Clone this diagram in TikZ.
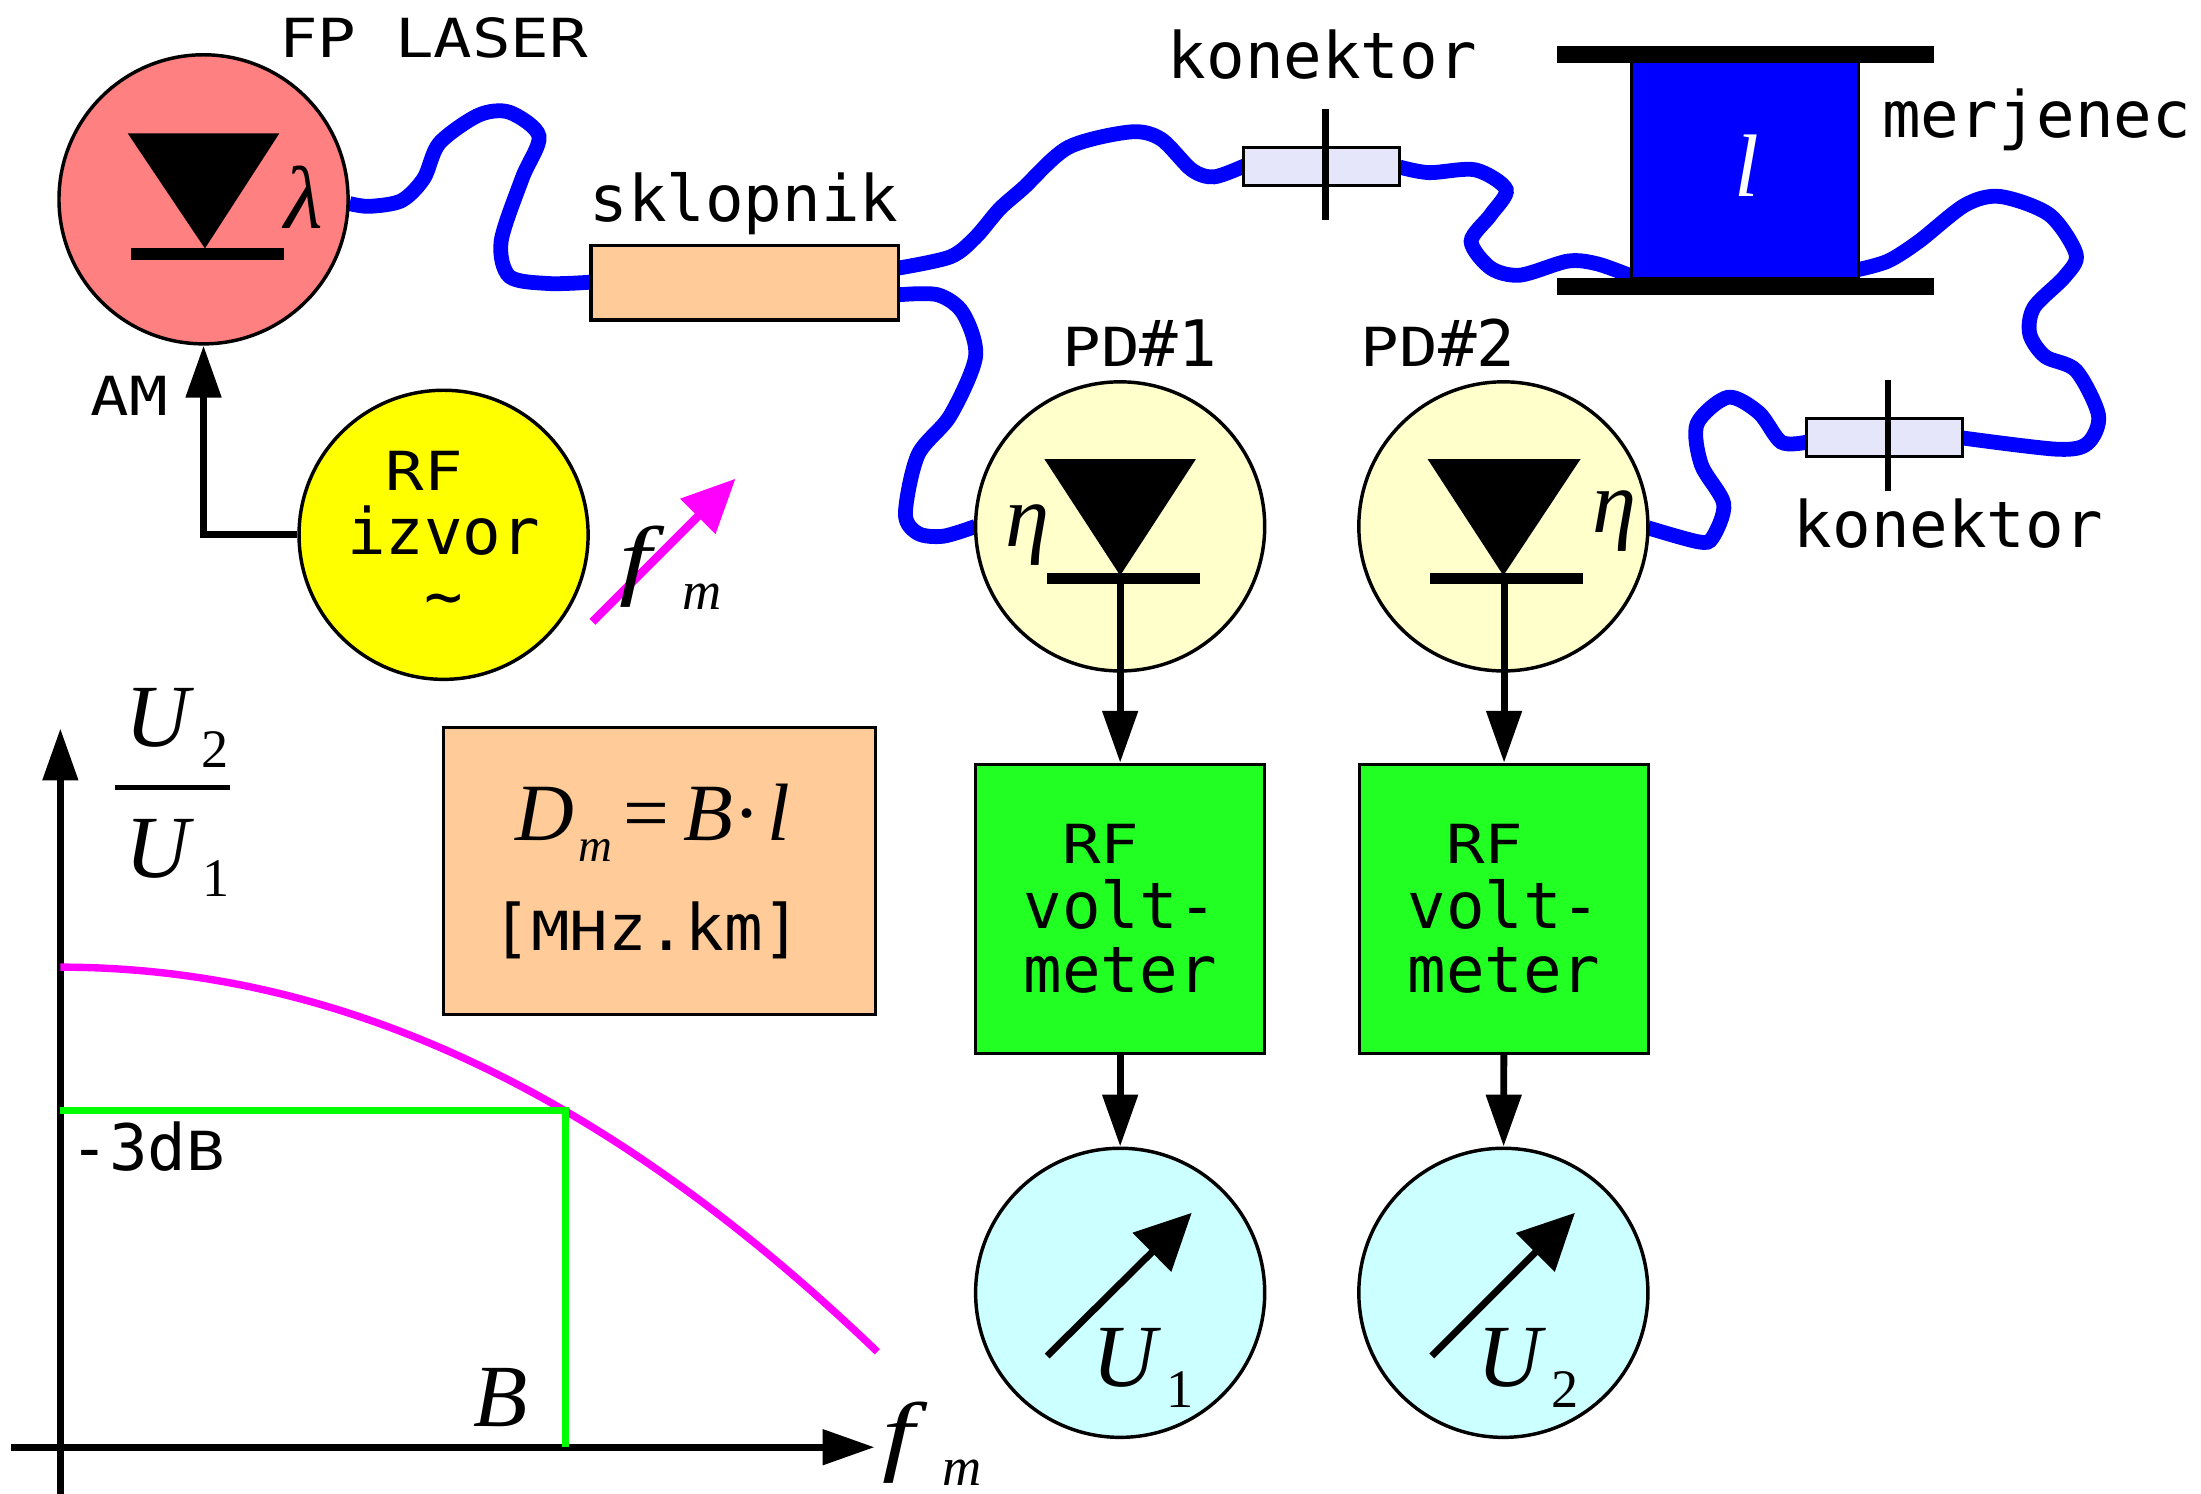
\documentclass[tikz,border=0pt]{standalone}
\usepackage{fontspec}
\usepackage{graphicx}
\setmonofont{DejaVu Sans Mono}
\newfontfamily\symfont{Liberation Serif}
\usetikzlibrary{arrows.meta}
\newcommand{\lowcap}[1]{\scalebox{1}[.84]{#1}}
\newcommand{\wideital}[1]{\scalebox{1.3}[1]{#1}}
\definecolor{laserred}{RGB}{255,128,128}
\definecolor{peach}{RGB}{255,204,153}
\definecolor{paleblue}{RGB}{230,230,250}
\definecolor{palecream}{RGB}{255,255,204}
\definecolor{rfyellow}{RGB}{255,255,0}
\definecolor{voltgreen}{RGB}{34,255,34}
\definecolor{metercyan}{RGB}{204,255,255}
\definecolor{puremagenta}{RGB}{255,0,255}
\definecolor{puregreen}{RGB}{0,255,0}
\definecolor{pureblue}{RGB}{0,0,255}
\tikzset{
  >={Triangle[length=0.74cm,width=0.49cm]},
  txt/.style={font=\ttfamily\fontsize{26}{26}\selectfont,inner sep=0pt,anchor=base},
  symbig/.style={font=\symfont\itshape\fontsize{36}{36}\selectfont,inner sep=0pt,anchor=base west},
  symsub/.style={font=\symfont\itshape\fontsize{22}{22}\selectfont,inner sep=0pt,anchor=base west},
  numsub/.style={font=\symfont\fontsize{22}{22}\selectfont,inner sep=0pt,anchor=base west},
  disc/.style={circle,draw,line width=1.4pt,minimum size=4.12cm,inner sep=0pt},
  block/.style={rectangle,draw,line width=1.3pt,inner sep=0pt},
  voltblock/.style={block,fill=voltgreen,minimum size=4.12cm,align=left,
    font=\ttfamily\fontsize{26}{26}\selectfont},
  conn/.style={block,fill=paleblue,minimum width=2.22cm,minimum height=0.54cm},
  bar/.style={rectangle,fill=black,inner sep=0pt},
  wire/.style={line width=2.8pt},
  fibre/.style={pureblue,line width=6pt},
  curve/.style={line width=3pt}
}

\begin{document}
\begin{tikzpicture}[x=0.02cm,y=-0.02cm]
  \useasboundingbox (0,0) rectangle (1568,1064);

  % Fibres
  \coordinate (laserout) at (249,145);
  \coordinate (splitin) at (421,201);
  \coordinate (splitup) at (640,191);
  \coordinate (splitdown) at (640,210);
  \coordinate (pdonein) at (695,375);
  \coordinate (pdtwoin) at (1174,376);
  \coordinate (connoneleft) at (887,118);
  \coordinate (connoneright) at (997,119);
  \coordinate (conntwoleft) at (1287,315);
  \coordinate (conntworight) at (1398,312);
  \coordinate (spoolin) at (1163,197);
  \coordinate (spoolout) at (1324,192);
  \draw [fibre] plot [smooth,tension=0.5] coordinates {(laserout) (263,147) (286,143) (302,127) (313,102) (341,82) (363,80) (384,97) (372,127) (357,172) (363,197) (391,202) (splitin)};
  \draw [fibre] plot [smooth,tension=0.5] coordinates {(splitup) (677,183) (695,169) (712,149) (729,134) (761,105) (805,94) (827,99) (849,121) (865,126) (connoneleft)};
  \draw [fibre] plot [smooth,tension=0.5] coordinates {(connoneright) (1018,123) (1051,121) (1073,135) (1062,153) (1048,172) (1062,191) (1083,196) (1117,186) (1138,188) (spoolin)};
  \draw [fibre] plot [smooth,tension=0.5] coordinates {(spoolout) (1345,186) (1367,172) (1400,146) (1425,140) (1460,153) (1479,181) (1471,197) (1449,219) (1446,238) (1457,254) (1479,264) (1495,296) (1487,316) (1465,320) (conntworight)};
  \draw [fibre] plot [smooth,tension=0.5] coordinates {(conntwoleft) (1269,315) (1253,294) (1231,283) (1209,302) (1212,331) (1228,359) (1220,383) (1210,386) (pdtwoin)};
  \draw [fibre] plot [smooth,tension=0.5] coordinates {(splitdown) (668,210) (686,223) (695,254) (677,296) (654,324) (645,366) (654,380) (672,382) (pdonein)};

  % Laser and source
  \node [disc,fill=laserred] (laser) at (145,142) {};
  \fill (91,95) -- (199,95) -- (146,177) -- cycle;
  \node [bar,minimum width=2.18cm,minimum height=0.16cm] (laserbar) at (147.5,181) {};
  \node [symbig] (lambda) at (202,163) {λ};
  \node [txt] (laserlabel) at (309,41) {\lowcap{FP LASER}};
  \node [disc,fill=rfyellow,align=left,font=\ttfamily\fontsize{26}{26}\selectfont] (rf) at (316,381) {\ \lowcap{RF}\\izvor\\\ \ \textasciitilde};
  \draw [->,wire] (rf) -| (laser);
  \node [txt] (am) at (92,296) {\lowcap{AM}};

  % Tuning arrow
  \coordinate (tunea) at (422,443);
  \coordinate (tuneb) at (524,341);
  \draw [-{Triangle[length=0.76cm,width=0.68cm]},puremagenta,line width=3.4pt] (tunea) -- (tuneb);
  \node [symbig] (tunef) at (441,419) {\wideital{f}};
  \node [symsub] (tunem) at (486,434) {m};

  % Splitter
  \node [block,fill=peach,minimum width=4.38cm,minimum height=1.06cm] (split) at (530.5,201.5) {};
  \node [txt] (splitlabel) at (530,158) {sklopnik};

  % Connectors
  \node [conn] (connone) at (941.5,118.5) {};
  \coordinate (connonea) at (944,78);
  \coordinate (connoneb) at (944,157);
  \draw [wire] (connonea) -- (connoneb);
  \node [txt] (connonelabel) at (942,56) {konektor};
  \node [conn] (conntwo) at (1342.5,311.5) {};
  \coordinate (conntwoa) at (1345,271);
  \coordinate (conntwob) at (1345,350);
  \draw [wire] (conntwoa) -- (conntwob);
  \node [txt] (conntwolabel) at (1388,390) {konektor};

  % Fibre under test
  \node [block,fill=pureblue,minimum width=3.24cm,minimum height=3.1cm] (spool) at (1243,121) {};
  \node [bar,minimum width=5.38cm,minimum height=0.24cm] (spooltop) at (1243.5,39) {};
  \node [bar,minimum width=5.38cm,minimum height=0.24cm] (spoolbottom) at (1243.5,204) {};
  \node [symbig,white] (length) at (1235,140) {l};
  \node [txt] (spoollabel) at (1451,98) {merjenec};

  % Photodiodes
  \node [disc,fill=palecream] (pdone) at (798,375) {};
  \fill (744,327) -- (852,327) -- (798,410) -- cycle;
  \node [bar,minimum width=2.18cm,minimum height=0.16cm] (pdonebar) at (800.5,412) {};
  \node [symbig] (etaone) at (716,389) {η};
  \node [txt] (pdonelabel) at (812,261) {\lowcap{PD}\#1};
  \node [disc,fill=palecream] (pdtwo) at (1071,375) {};
  \fill (1017,327) -- (1126,327) -- (1071,410) -- cycle;
  \node [bar,minimum width=2.18cm,minimum height=0.16cm] (pdtwobar) at (1073.5,412) {};
  \node [symbig] (etatwo) at (1134,379) {η};
  \node [txt] (pdtwolabel) at (1024.5,261) {\lowcap{PD}\#2};

  % Voltmeters
  \node [voltblock] (voltone) at (798,647.5) {\ \lowcap{RF}\\volt-\\meter};
  \node [voltblock] (volttwo) at (1071.5,647.5) {\ \lowcap{RF}\\volt-\\meter};
  \node [disc,fill=metercyan] (meterone) at (798,921) {};
  \node [disc,fill=metercyan] (metertwo) at (1071,921) {};
  \coordinate (pdoneout) at (798,412);
  \coordinate (pdtwoout) at (1071.5,412);
  \draw [->,wire] (pdoneout) -- (voltone.north);
  \draw [->,wire] (pdtwoout) -- (volttwo.north);
  \draw [->,wire] (voltone) -- (meterone);
  \draw [->,wire] (volttwo) -- (metertwo);
  \coordinate (needleonea) at (746,966);
  \coordinate (needleoneb) at (849,864);
  \coordinate (needletwoa) at (1020,966);
  \coordinate (needletwob) at (1122,864);
  \draw [-{Triangle[length=0.8cm,width=0.76cm]},wire] (needleonea) -- (needleoneb);
  \draw [-{Triangle[length=0.8cm,width=0.76cm]},wire] (needletwoa) -- (needletwob);
  \node [symbig] (uone) at (778,988) {U};
  \node [numsub] (uonesub) at (831,1003) {1};
  \node [symbig] (utwo) at (1052,988) {U};
  \node [numsub] (utwosub) at (1105,1003) {2};

  % Formula box
  \node [block,fill=peach,minimum width=6.16cm,minimum height=4.1cm] (formula) at (470,620.5) {};
  \node [symbig,font=\symfont\itshape\fontsize{33}{33}\selectfont] (dm) at (367,599) {D\kern0.06cm\raisebox{-0.29cm}{\fontsize{19}{19}\selectfont m}\kern0.16cm{\upshape=}\kern0.2cm B{\upshape·}\kern0.1cm l};
  \node [txt] (unit) at (461,677) {[\lowcap{MH}z.km]};

  % Response plot
  \coordinate (xstart) at (8,1031);
  \coordinate (xend) at (623,1031);
  \coordinate (ystart) at (43,1064);
  \coordinate (yend) at (43,519);
  \draw [->,wire] (xstart) -- (xend);
  \draw [->,wire] (ystart) -- (yend);
  \coordinate (curvea) at (43,689);
  \coordinate (curveb) at (625,963);
  \draw [curve,puremagenta] (curvea) .. controls (260,689) and (450,795) .. (curveb);
  \coordinate (greena) at (43,791);
  \coordinate (greenb) at (403,791);
  \coordinate (greenc) at (403,1031);
  \draw [curve,puregreen] (greena) -- (greenb) -- (greenc);
  \node [txt,anchor=base west] (threedb) at (50,834) {-3d\lowcap{B}};
  \node [symbig] (bandw) at (337,1016) {B};
  \node [symbig] (axisf) at (628,1043) {\wideital{f}};
  \node [symsub] (axism) at (671,1058) {m};
  \node [symbig] (fracu) at (89,532) {U};
  \node [numsub] (fractwo) at (143,547) {2};
  \coordinate (fraca) at (82,561);
  \coordinate (fracb) at (164,561);
  \draw [line width=1.9pt] (fraca) -- (fracb);
  \node [symbig] (fracd) at (89,625) {U};
  \node [numsub] (fracone) at (144,639) {1};
\end{tikzpicture}
\end{document}
